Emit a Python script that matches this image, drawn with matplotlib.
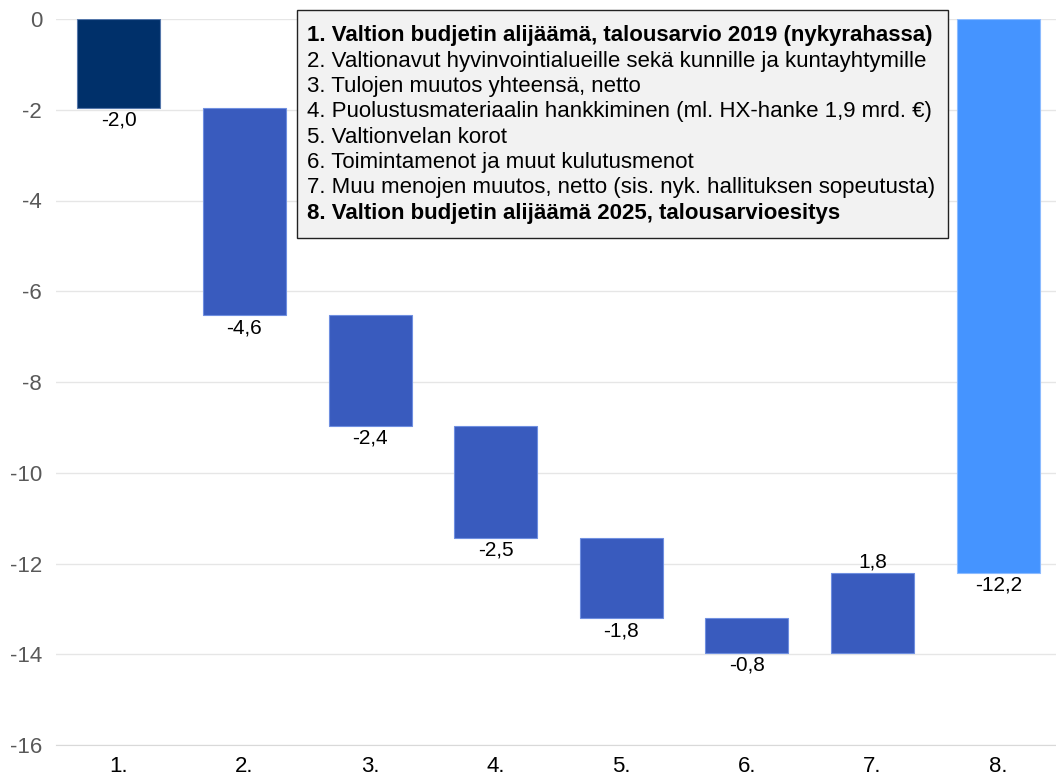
import matplotlib.pyplot as plt
from matplotlib.patches import Rectangle

plt.rcParams['font.family'] = ['Liberation Sans', 'DejaVu Sans']
plt.rcParams['axes.unicode_minus'] = False

# waterfall steps (mrd. €), last bar is the total
categories = ['1.', '2.', '3.', '4.', '5.', '6.', '7.', '8.']
changes = [-1.96, -4.57, -2.43, -2.47, -1.78, -0.76, 1.76]
legend_lines = [
    '1. Valtion budjetin alijäämä, talousarvio 2019 (nykyrahassa)',
    '2. Valtionavut hyvinvointialueille sekä kunnille ja kuntayhtymille',
    '3. Tulojen muutos yhteensä, netto',
    '4. Puolustusmateriaalin hankkiminen (ml. HX-hanke 1,9 mrd. €)',
    '5. Valtionvelan korot',
    '6. Toimintamenot ja muut kulutusmenot',
    '7. Muu menojen muutos, netto (sis. nyk. hallituksen sopeutusta)',
    '8. Valtion budjetin alijäämä 2025, talousarvioesitys',
]
bold_lines = [0, 7]

dark = '#00306A'
mid = '#395BBE'
light = '#4594FF'

fig = plt.figure(figsize=(10.56, 7.81), dpi=100)
ax = fig.add_axes([56/1056, 1-745/781, 1-56/1056, (745-19)/781])

total = sum(changes)
bottoms = []
heights = []
colors = []
cum = 0
for i, c in enumerate(changes):
    bottoms.append(cum)
    heights.append(c)
    cum += c
    colors.append(dark if i == 0 else mid)
bottoms.append(0)
heights.append(total)
colors.append(light)
labels = [f"{v:.1f}".replace('.', ',') for v in changes] + [f"{total:.1f}".replace('.', ',')]

x = list(range(len(categories)))
ax.bar(x, heights, bottom=bottoms, width=0.66, color=colors,
       edgecolor=['#5577AA'] + ['#6F8FE0'] * 6 + ['#8CBBFF'], linewidth=0.8, zorder=3)

for i in x:
    end = bottoms[i] + heights[i]
    if heights[i] < 0:
        ax.annotate(labels[i], (i, end), xytext=(0, -2), textcoords='offset points',
                    ha='center', va='top', fontsize=15, color='black')
    else:
        ax.annotate(labels[i], (i, end), xytext=(0, 1), textcoords='offset points',
                    ha='center', va='bottom', fontsize=15, color='black')

ax.set_ylim(-16, 0)
ax.set_xlim(-0.5, 7.46)
ax.set_yticks(range(-16, 1, 2))
ax.set_xticks(x)
ax.set_xticklabels(categories)
ax.tick_params(axis='y', length=0, labelsize=16, labelcolor='#595959', pad=10)
ax.tick_params(axis='x', length=0, labelsize=16, labelcolor='black', pad=8)
ax.grid(axis='y', color='#E6E6E6', linewidth=1, zorder=0)
for s in ['top', 'right', 'left']:
    ax.spines[s].set_visible(False)
ax.spines['bottom'].set_color('#D9D9D9')
ax.set_axisbelow(True)

# legend box with the category explanations
box = Rectangle((297/1056, 1-238/781), (948-297)/1056, (238-10)/781,
                transform=fig.transFigure, facecolor='#F2F2F2', edgecolor='#222222',
                linewidth=1, zorder=5)
fig.patches.append(box)
for k, line in enumerate(legend_lines):
    yy = 1 - (36 + k * 25.3) / 781
    fig.text(307/1056, yy, line, fontsize=16, va='center', ha='left',
             fontweight='bold' if k in bold_lines else 'normal', zorder=6)

fig.savefig('out.png', dpi=100)
